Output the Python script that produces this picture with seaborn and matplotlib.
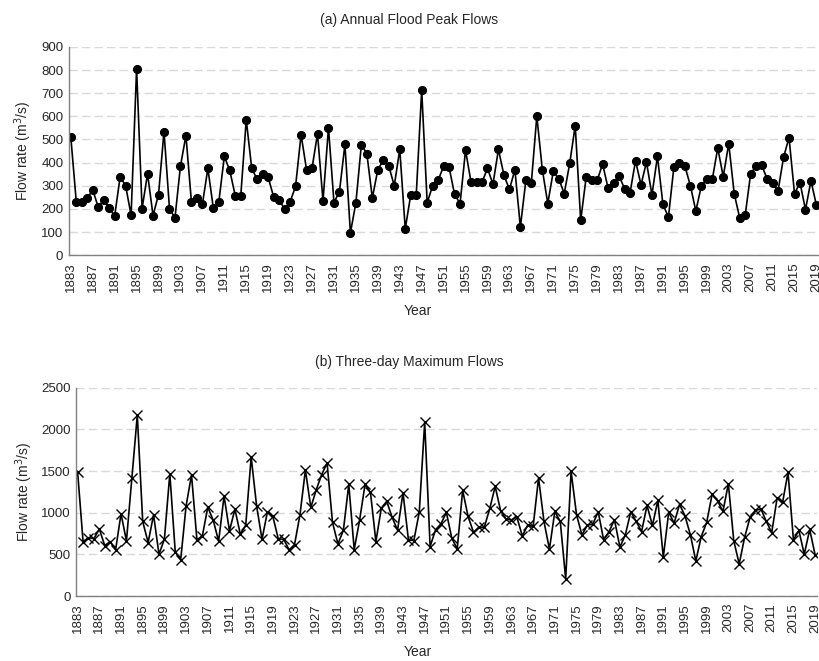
import numpy as np
import pandas as pd
import seaborn as sns
import matplotlib.pyplot as plt

# Valores (1883-2019)
anos = list(range(1883, 2020))

pico_anual = [
    511, 230, 230, 245, 282, 208, 237, 205, 169, 339, 300, 172, 806, 201, 352,
    171, 262, 534, 201, 161, 385, 517, 230, 249, 220, 375, 203, 230, 427, 366,
    256, 256, 585, 375, 327, 350, 336, 252, 240, 198, 230, 298, 521, 369, 376,
    525, 234, 551, 227, 275, 479, 96, 227, 478, 438, 247, 370, 410, 385, 300,
    457, 114, 260, 258, 713,
    227, 300, 323, 385, 379, 263, 223, 454, 315, 315, 315, 375, 307, 457, 346,
    284, 369, 122, 323, 313, 601, 370, 223, 362, 331, 266, 397, 560, 150, 337,
    323, 323, 394, 289, 313, 343,
    287, 269, 408, 304, 402, 260, 427, 220, 164, 381, 399, 385, 301, 191, 298,
    331, 327, 463, 339, 482, 266, 161, 172, 352, 385, 389, 330, 311, 278, 423,
    508, 266, 313, 197, 321, 216,
]

max_tres_dias = [
    1485, 654, 700, 690, 803, 606, 654, 554, 987, 662, 1417, 2171, 895, 642, 975,
    502, 682, 1469, 530, 433, 1083, 1453, 674, 722, 1067, 911, 658, 1200, 782,
    1043, 742, 851, 1669, 1083, 682, 1011, 955, 686, 682, 554, 618, 975, 1513,
    1063, 1276, 1457, 1597, 883, 626, 787, 1340, 558, 911, 1340, 1244, 654, 1055,
    1136, 943, 791, 1240, 674, 666, 1007,
    2087, 594, 795, 867, 1003, 694, 566, 1268, 955, 766, 823, 827, 1051, 1316,
    1023, 923, 915, 947, 722, 851, 835, 1417, 895, 562, 1015, 895, 205, 1497,
    975, 734, 851, 863, 1011, 674, 774, 915, 586,
    734, 1011, 895, 774, 1087, 847, 1148, 465, 1007, 875, 1100, 963, 734, 421,
    714, 883, 1220, 1144, 1015, 1348, 662, 385, 706, 943, 1027, 1047, 895, 762,
    1180, 1124, 1485, 674, 787, 502, 799, 494,
]

df = pd.DataFrame({'ano': anos, 'pico': pico_anual, 'tres_dias': max_tres_dias})

sns.set_style('white')
plt.rcParams['font.family'] = ['Liberation Sans', 'DejaVu Sans']

fig = plt.figure(figsize=(8.2, 6.61), dpi=100)
ax1 = fig.add_axes([0.084, 0.614, 0.913, 0.315])
ax2 = fig.add_axes([0.0927, 0.0983, 0.904, 0.315])

sns.lineplot(data=df, x='ano', y='pico', ax=ax1, color='black', linewidth=1.2,
             marker='o', markersize=5.8, markeredgecolor='black')
sns.lineplot(data=df, x='ano', y='tres_dias', ax=ax2, color='black', linewidth=1.2,
             marker='x', markersize=6.5, markeredgewidth=1, markeredgecolor='black')

for ax, ymax, passo, xlim, xrot in [(ax1, 900, 100, (1882.65, 2019.2), -0.046),
                                    (ax2, 2500, 500, (1882.7, 2019.4), -0.055)]:
    ax.set_ylim(0, ymax)
    ax.set_yticks(np.arange(0, ymax + 1, passo))
    ax.set_xlim(*xlim)
    ax.set_xticks(range(1883, 2020, 4))
    ax.tick_params(axis='x', labelrotation=90, labelsize=9.5, length=0, pad=5)
    ax.tick_params(axis='y', labelsize=9.5, length=0, pad=4)
    ax.grid(axis='y', color='#d9d9d9', linestyle=(0, (6, 3)), linewidth=1)
    ax.set_axisbelow(True)
    for lado in ['top', 'right']:
        ax.spines[lado].set_visible(False)
    for lado in ['left', 'bottom']:
        ax.spines[lado].set_color('#808080')
        ax.spines[lado].set_linewidth(1)
    ax.set_xlabel('')
    ax.set_ylabel('Flow rate (m$^3$/s)', fontsize=10)
    ax.yaxis.set_label_coords(xrot, 0.5)

# Títulos e rótulos do eixo x
fig.text(0.499, 0.969, '(a) Annual Flood Peak Flows', ha='center', va='center', fontsize=10)
fig.text(0.51, 0.529, 'Year', ha='center', va='center', fontsize=10)
fig.text(0.499, 0.452, '(b) Three-day Maximum Flows', ha='center', va='center', fontsize=10)
fig.text(0.51, 0.014, 'Year', ha='center', va='center', fontsize=10)

plt.savefig('out.png', dpi=100)
